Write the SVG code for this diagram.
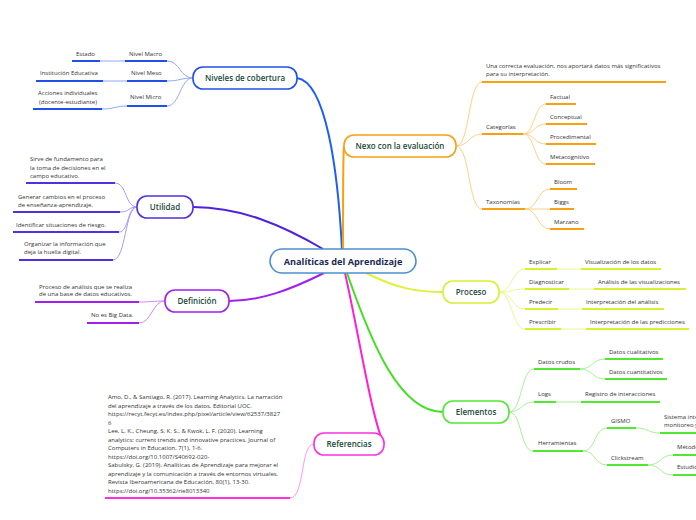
<svg xmlns="http://www.w3.org/2000/svg" width="696" height="520" viewBox="0 0 696 520">
<style>
.node rect{fill:#fff;stroke-width:1.6}
.nt{font-family:"Open Sans","Noto Sans",sans-serif;font-size:8px;font-weight:600;fill:#1b4a3a;text-anchor:middle}
.ct{font-family:"Open Sans","Noto Sans",sans-serif;font-size:9.2px;font-weight:700;fill:#1a2a55;text-anchor:middle}
.it{font-family:"Open Sans","Noto Sans",sans-serif;font-size:6px;fill:#333}
.main{fill:none;stroke-width:2}
.c{fill:none;stroke-width:1}
.u{fill:none;stroke-width:2}
.blue .u{stroke:#2050e8}.blue .c{stroke:#90a8f8}
.ind .u{stroke:#5030e0}.ind .c{stroke:#a898f8}
.vio .u{stroke:#a020f0}.vio .c{stroke:#d488f8}
.mag .u{stroke:#ff30e0}.mag .c{stroke:#ff98f0}
.ora .u{stroke:#f8a010}.ora .c{stroke:#ffd088}
.yel .u{stroke:#d8f030}.yel .c{stroke:#ecf890}
.grn .u{stroke:#50e830}.grn .c{stroke:#a8f098}
</style>
<rect width="696" height="520" fill="#fff"/>
<g id="connectors">
<path class="main" stroke="#2060f0" d="M342,250 C338,170 326,82 297,78"/>
<path class="main" stroke="#f8a010" d="M343,249 C343,200 343,152 344,146"/>
<path class="main" stroke="#5020e0" d="M323,249 C282,225 240,207 193,207"/>
<path class="main" stroke="#a020f0" d="M324,273 C290,290 260,301 229,301"/>
<path class="main" stroke="#ff20d0" d="M345,273 C360,340 372,420 384,444"/>
<path class="main" stroke="#e0f040" d="M366,273 C400,290 420,292 443,292"/>
<path class="main" stroke="#40e020" d="M347,273 C372,345 400,412 443,412"/>
<g class="blue">
<path class="c" d="M193,78 C180,78 180,61 167,61"/>
<path class="c" d="M193,78 C180,78 180,81 167,81"/>
<path class="c" d="M193,78 C180,78 180,106 167,106"/>
<path class="c" d="M125,61 L100,61"/>
<path class="c" d="M127,81 L103,81"/>
<path class="c" d="M127,106 C115,106 115,109 102,109"/>
</g>
<g class="ind">
<path class="c" d="M137,207 C125,207 127,183 115,183"/>
<path class="c" d="M137,207 C128,207 130,212 120,212"/>
<path class="c" d="M137,207 C127,207 129,232 119,232"/>
<path class="c" d="M137,207 C125,207 126,260 113,260"/>
</g>
<g class="vio">
<path class="c" d="M165,301 C152,301 152,302 139,302"/>
<path class="c" d="M165,301 C152,301 152,323 139,323"/>
</g>
<g class="mag">
<path class="c" d="M314,444 C300,444 305,498 290,498"/>
</g>
<g class="ora">
<path class="c" d="M456,146 C470,146 468,82 482,82"/>
<path class="c" d="M456,146 C469,146 469,134 482,134"/>
<path class="c" d="M456,146 C470,146 468,209 482,209"/>
<path class="c" d="M523,134 C535,134 534,104 546,104"/>
<path class="c" d="M523,134 C535,134 534,124 546,124"/>
<path class="c" d="M523,134 C535,134 534,144 546,144"/>
<path class="c" d="M523,134 C535,134 534,164 546,164"/>
<path class="c" d="M525,209 C538,209 537,189 550,189"/>
<path class="c" d="M525,209 L550,209"/>
<path class="c" d="M525,209 C538,209 537,229 550,229"/>
</g>
<g class="yel">
<path class="c" d="M499,292 C512,292 512,269 525,269"/>
<path class="c" d="M499,292 C512,292 512,289 525,289"/>
<path class="c" d="M499,292 C512,292 512,309 525,309"/>
<path class="c" d="M499,292 C512,292 512,329 525,329"/>
<path class="c" d="M557,269 L581,269"/>
<path class="c" d="M569,289 L594,289"/>
<path class="c" d="M558,309 L582,309"/>
<path class="c" d="M561,329 L586,329"/>
</g>
<g class="grn">
<path class="c" d="M509,412 C522,412 521,369 534,369"/>
<path class="c" d="M509,412 C522,412 521,402 534,402"/>
<path class="c" d="M509,412 C522,412 520,451 533,451"/>
<path class="c" d="M580,369 C593,369 592,359 605,359"/>
<path class="c" d="M580,369 C593,369 592,379 605,379"/>
<path class="c" d="M556,402 L581,402"/>
<path class="c" d="M583,451 C596,451 594,428 607,428"/>
<path class="c" d="M583,451 C596,451 594,465 607,465"/>
<path class="c" d="M636,428 C648,428 648,433 660,433"/>
<path class="c" d="M648,465 C661,465 660,455 673,455"/>
<path class="c" d="M648,465 C661,465 660,475 673,475"/>
</g>
</g>
<g id="center" class="node"><rect x="270" y="249" width="146" height="24" rx="12" stroke="#4a90d0"/><text class="ct" x="343" y="264.5">Analíticas del Aprendizaje</text></g>
<g id="niveles" class="node blue"><rect x="193" y="67" width="104" height="22" rx="10" stroke="#2050e8"/><text class="nt" x="245" y="81">Niveles de cobertura</text>
<line class="u" x1="125" y1="61" x2="167" y2="61"/><text class="it" x="129" y="56">Nivel Macro</text>
<line class="u" x1="72" y1="61" x2="100" y2="61"/><text class="it" x="76" y="56">Estado</text>
<line class="u" x1="127" y1="81" x2="167" y2="81"/><text class="it" x="131" y="75">Nivel Meso</text>
<line class="u" x1="36" y1="81" x2="103" y2="81"/><text class="it" x="40" y="75">Institución Educativa</text>
<line class="u" x1="127" y1="106" x2="167" y2="106"/><text class="it" x="130" y="99">Nivel Micro</text>
<line class="u" x1="33" y1="109" x2="102" y2="109"/><text class="it" x="38" y="95">Acciones individuales</text><text class="it" x="39" y="104">(docente-estudiante)</text>
</g>
<g id="utilidad" class="node ind"><rect x="137" y="196" width="56" height="22" rx="10" stroke="#5030e0"/><text class="nt" x="165" y="210">Utilidad</text>
<line class="u" x1="26" y1="183" x2="115" y2="183"/><text class="it" x="30" y="161">Sirve de fundamento para</text><text class="it" x="30" y="170">la toma de decisiones en el</text><text class="it" x="30" y="178">campo educativo.</text>
<line class="u" x1="13" y1="212" x2="120" y2="212"/><text class="it" x="18" y="199">Generar cambios en el proceso</text><text class="it" x="18" y="207">de enseñanza-aprendizaje.</text>
<line class="u" x1="13" y1="232" x2="119" y2="232"/><text class="it" x="16" y="227">Identificar situaciones de riesgo.</text>
<line class="u" x1="19" y1="260" x2="113" y2="260"/><text class="it" x="24" y="246">Organizar la información que</text><text class="it" x="24" y="254">deja la huella digital.</text>
</g>
<g id="definicion" class="node vio"><rect x="165" y="290" width="64" height="22" rx="10" stroke="#a020f0"/><text class="nt" x="197" y="304">Definición</text>
<line class="u" x1="35" y1="302" x2="139" y2="302"/><text class="it" x="39" y="289">Proceso de análisis que se realiza</text><text class="it" x="39" y="296">de una base de datos educativos.</text>
<line class="u" x1="87" y1="323" x2="139" y2="323"/><text class="it" x="91" y="317">No es Big Data.</text>
</g>
<g id="referencias" class="node mag"><rect x="314" y="433" width="70" height="22" rx="10" stroke="#ff30e0"/><text class="nt" x="349" y="447">Referencias</text>
<line class="u" x1="105" y1="498" x2="290" y2="498"/>
<text class="it" x="108" y="399">Amo, D., &amp; Santiago, R. (2017). Learning Analytics. La narración</text>
<text class="it" x="108" y="407.5">del aprendizaje a través de los datos. Editorial UOC.</text>
<text class="it" x="108" y="416">https://recyt.fecyt.es/index.php/pixel/article/view/62537/3827</text>
<text class="it" x="108" y="424.5">6</text>
<text class="it" x="108" y="433">Lee, L. K., Cheung, S. K. S., &amp; Kwok, L. F. (2020). Learning</text>
<text class="it" x="108" y="441.5">analytics: current trends and innovative practices. Journal of</text>
<text class="it" x="108" y="450">Computers in Education, 7(1), 1-6.</text>
<text class="it" x="108" y="458.5">https://doi.org/10.1007/S40692-020-</text>
<text class="it" x="108" y="467">Sabulsky, G. (2019). Analíticas de Aprendizaje para mejorar el</text>
<text class="it" x="108" y="475.5">aprendizaje y la comunicación a través de entornos virtuales.</text>
<text class="it" x="108" y="484">Revista Iberoamericana de Educación, 80(1), 13-30.</text>
<text class="it" x="108" y="492.5">https://doi.org/10.35362/rie8013340</text>
</g>
<g id="nexo" class="node ora"><rect x="344" y="135" width="112" height="22" rx="10" stroke="#f8a010"/><text class="nt" x="400" y="149">Nexo con la evaluación</text>
<line class="u" x1="482" y1="82" x2="666" y2="82"/><text class="it" x="486" y="68">Una correcta evaluación, nos aportará datos más significativos</text><text class="it" x="486" y="76">para su interpretación.</text>
<line class="u" x1="482" y1="134" x2="523" y2="134"/><text class="it" x="486" y="129">Categorías</text>
<line class="u" x1="546" y1="104" x2="576" y2="104"/><text class="it" x="550" y="99">Factual</text>
<line class="u" x1="546" y1="124" x2="587" y2="124"/><text class="it" x="550" y="119">Conceptual</text>
<line class="u" x1="546" y1="144" x2="596" y2="144"/><text class="it" x="550" y="139">Procedimental</text>
<line class="u" x1="546" y1="164" x2="595" y2="164"/><text class="it" x="550" y="159">Metacognitivo</text>
<line class="u" x1="482" y1="209" x2="525" y2="209"/><text class="it" x="486" y="204">Taxonomías</text>
<line class="u" x1="550" y1="189" x2="577" y2="189"/><text class="it" x="554" y="184">Bloom</text>
<line class="u" x1="550" y1="209" x2="574" y2="209"/><text class="it" x="554" y="204">Biggs</text>
<line class="u" x1="550" y1="229" x2="584" y2="229"/><text class="it" x="554" y="224">Marzano</text>
</g>
<g id="proceso" class="node yel"><rect x="443" y="281" width="56" height="22" rx="10" stroke="#d8f030"/><text class="nt" x="471" y="295">Proceso</text>
<line class="u" x1="525" y1="269" x2="557" y2="269"/><text class="it" x="529" y="264">Explicar</text>
<line class="u" x1="581" y1="269" x2="661" y2="269"/><text class="it" x="585" y="264">Visualización de los datos</text>
<line class="u" x1="525" y1="289" x2="569" y2="289"/><text class="it" x="529" y="284">Diagnosticar</text>
<line class="u" x1="594" y1="289" x2="686" y2="289"/><text class="it" x="598" y="284">Análisis de las visualizaciones</text>
<line class="u" x1="525" y1="309" x2="558" y2="309"/><text class="it" x="529" y="304">Predecir</text>
<line class="u" x1="582" y1="309" x2="664" y2="309"/><text class="it" x="586" y="304">Interpretación del análisis</text>
<line class="u" x1="525" y1="329" x2="561" y2="329"/><text class="it" x="529" y="324">Prescribir</text>
<line class="u" x1="586" y1="329" x2="689" y2="329"/><text class="it" x="590" y="324">Interpretación de las predicciones</text>
</g>
<g id="elementos" class="node grn"><rect x="443" y="401" width="66" height="22" rx="10" stroke="#50e830"/><text class="nt" x="476" y="415">Elementos</text>
<line class="u" x1="534" y1="369" x2="580" y2="369"/><text class="it" x="538" y="364">Datos crudos</text>
<line class="u" x1="605" y1="359" x2="663" y2="359"/><text class="it" x="609" y="354">Datos cualitativos</text>
<line class="u" x1="605" y1="379" x2="667" y2="379"/><text class="it" x="609" y="374">Datos cuantitativos</text>
<line class="u" x1="534" y1="402" x2="556" y2="402"/><text class="it" x="538" y="396">Logs</text>
<line class="u" x1="581" y1="402" x2="660" y2="402"/><text class="it" x="585" y="396">Registro de interacciones</text>
<line class="u" x1="533" y1="451" x2="583" y2="451"/><text class="it" x="538" y="445">Herramientas</text>
<line class="u" x1="607" y1="428" x2="636" y2="428"/><text class="it" x="611" y="423">GISMO</text>
<line class="u" x1="660" y1="433" x2="720" y2="433"/><text class="it" x="664" y="419">Sistema interactivo de</text><text class="it" x="664" y="427">monitoreo y seguimiento</text>
<line class="u" x1="607" y1="465" x2="648" y2="465"/><text class="it" x="611" y="460">Clickstream</text>
<line class="u" x1="673" y1="455" x2="720" y2="455"/><text class="it" x="677" y="449">Método de navegación</text>
<line class="u" x1="673" y1="475" x2="720" y2="475"/><text class="it" x="677" y="469">Estudio de casos</text>
</g>
</svg>
